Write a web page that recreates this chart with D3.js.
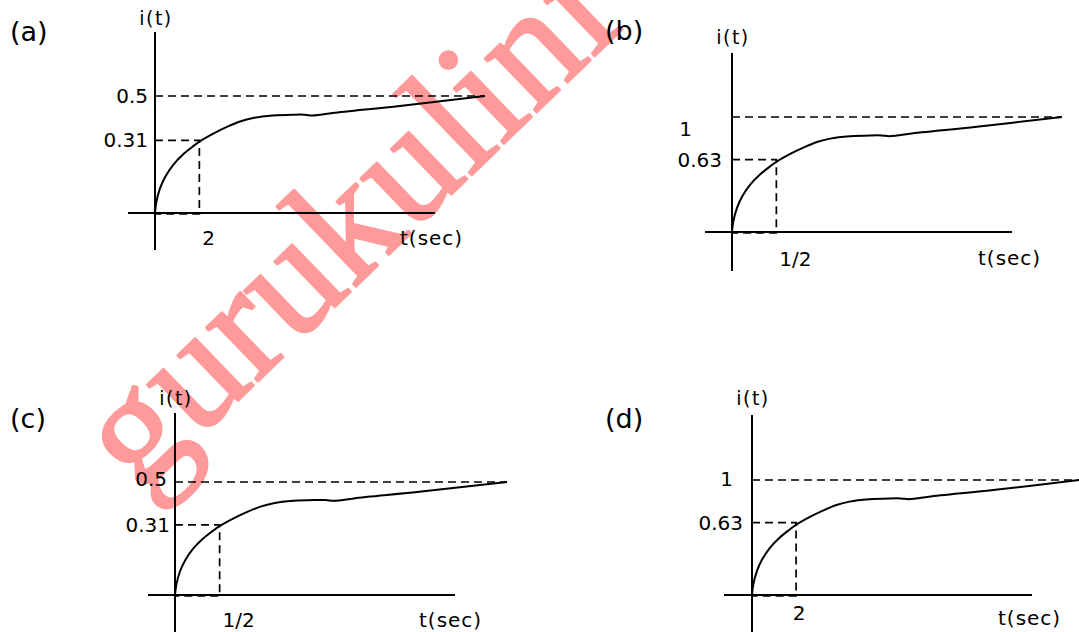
<!DOCTYPE html>
<html>
<head>
<meta charset="utf-8">
<script src="https://cdn.jsdelivr.net/npm/d3@7"></script>
<style>
  html, body { margin: 0; padding: 0; background: #fff; }
  svg { display: block; font-family: "DejaVu Sans", Verdana, sans-serif; }
</style>
</head>
<body>
<div id="chart"></div>
<script>
// panel data
const panelNames = ['(a)', '(b)', '(c)', '(d)'];
const steadyValues = [0.5, 1, 0.5, 1];
const steadyLabels = ['0.5', '1', '0.5', '1'];
const markerValues = [0.31, 0.63, 0.31, 0.63];
const markerLabels = ['0.31', '0.63', '0.31', '0.63'];
const markerTimes = [2, 0.5, 0.5, 2];
const markerTimeLabels = ['2', '1/2', '1/2', '2'];

// curve: time in multiples of the marked time,
// current as a fraction of the steady value
const shapeT = [0, 0.029, 0.113, 0.232, 0.406, 0.631, 0.857, 1.0, 1.346, 1.646, 1.917, 2.21, 2.66, 3.11, 3.38, 3.54, 3.72, 4.01, 5.52, 7.44];
const shapeI = [0, 0.09, 0.21, 0.31, 0.41, 0.5, 0.57, 0.61, 0.685, 0.74, 0.782, 0.812, 0.833, 0.84, 0.84, 0.833, 0.839, 0.855, 0.915, 1.0];

const width = 1079;
const height = 632;

// where each little plot sits on the page
const layout = [
    { ox: 155, oy: 213, xEnd: 485, yTop: 96, axTop: 32, axBottom: 250, axLeft: 128, axRight: 435,
      name: [10, 41], it: [156, 25], tsec: [400, 245], tLab: [3, 245, 'start'], steadyOff: [-7, 0], markerOff: [-7, 0] },
    { ox: 732, oy: 232, xEnd: 1062, yTop: 117, axTop: 53, axBottom: 271, axLeft: 705, axRight: 1012,
      name: [605, 40], it: [733, 44], tsec: [978, 265], tLab: [3, 266, 'start'], steadyOff: [-40, 11.5], markerOff: [-10, 0] },
    { ox: 175, oy: 595, xEnd: 507, yTop: 482, axTop: 413, axBottom: 640, axLeft: 148, axRight: 455,
      name: [10, 428], it: [176, 405], tsec: [419, 627], tLab: [3, 627, 'start'], steadyOff: [-8, -3], markerOff: [-5, 0] },
    { ox: 752, oy: 595, xEnd: 1080, yTop: 480, axTop: 415, axBottom: 640, axLeft: 724, axRight: 1032,
      name: [605, 428], it: [753, 405], tsec: [998, 625], tLab: [3, 620, 'middle'], steadyOff: [-19, -1], markerOff: [-9, 0] }
];

const svg = d3.select('#chart')
    .append('svg')
    .attr('width', width)
    .attr('height', height);

svg.append('rect')
    .attr('width', width)
    .attr('height', height)
    .attr('fill', '#fff');

// watermark sits under the drawings
svg.append('text')
    .attr('transform', 'translate(139,496) rotate(-44)')
    .attr('font-family', '"Liberation Serif", "Times New Roman", serif')
    .attr('font-size', 162)
    .attr('fill', '#ff9a9a')
    .attr('stroke', '#ff9a9a')
    .attr('stroke-width', 2.5)
    .attr('stroke-linejoin', 'round')
    .text('gurukulini');

const line = d3.line().curve(d3.curveCatmullRom.alpha(0.5));

panelNames.forEach((name, i) => {
    const L = layout[i];
    const tEnd = shapeT[shapeT.length - 1] * markerTimes[i];

    const x = d3.scaleLinear().domain([0, tEnd]).range([L.ox, L.xEnd]);
    const y = d3.scaleLinear().domain([0, steadyValues[i]]).range([L.oy, L.yTop]);

    const g = svg.append('g').attr('class', 'panel');

    // axes
    g.append('line')
        .attr('x1', L.axLeft).attr('x2', L.axRight)
        .attr('y1', y(0)).attr('y2', y(0))
        .attr('stroke', '#000').attr('stroke-width', 2);
    g.append('line')
        .attr('x1', x(0)).attr('x2', x(0))
        .attr('y1', L.axTop).attr('y2', L.axBottom)
        .attr('stroke', '#000').attr('stroke-width', 2);

    // dashed guides
    const dash = '8,5';
    g.append('line')
        .attr('x1', x(0)).attr('x2', x(tEnd))
        .attr('y1', y(steadyValues[i])).attr('y2', y(steadyValues[i]))
        .attr('stroke', '#000').attr('stroke-width', 1.7).attr('stroke-dasharray', dash);
    g.append('path')
        .attr('d', `M${x(0)},${y(markerValues[i])}H${x(markerTimes[i])}V${y(0) + 1}H${x(0)}`)
        .attr('fill', 'none')
        .attr('stroke', '#000').attr('stroke-width', 1.7).attr('stroke-dasharray', dash);

    // response curve
    const pts = shapeT.map((t, k) => [x(t * markerTimes[i]), y(shapeI[k] * steadyValues[i])]);
    g.append('path')
        .attr('d', line(pts))
        .attr('fill', 'none')
        .attr('stroke', '#000')
        .attr('stroke-width', 2);

    // texts
    g.append('text')
        .attr('x', L.name[0]).attr('y', L.name[1])
        .attr('font-size', 27)
        .text(name);

    g.append('text')
        .attr('x', L.it[0]).attr('y', L.it[1])
        .attr('text-anchor', 'middle')
        .attr('font-size', 19)
        .attr('letter-spacing', 1.5)
        .text('i(t)');

    g.append('text')
        .attr('x', L.tsec[0]).attr('y', L.tsec[1])
        .attr('font-size', 20)
        .attr('letter-spacing', 1)
        .text('t(sec)');

    g.append('text')
        .attr('x', x(0) + L.steadyOff[0]).attr('y', y(steadyValues[i]) + L.steadyOff[1])
        .attr('text-anchor', 'end')
        .attr('dominant-baseline', 'central')
        .attr('font-size', 20)
        .text(steadyLabels[i]);

    g.append('text')
        .attr('x', x(0) + L.markerOff[0]).attr('y', y(markerValues[i]) + L.markerOff[1])
        .attr('text-anchor', 'end')
        .attr('dominant-baseline', 'central')
        .attr('font-size', 20)
        .text(markerLabels[i]);

    g.append('text')
        .attr('x', x(markerTimes[i]) + L.tLab[0]).attr('y', L.tLab[1])
        .attr('text-anchor', L.tLab[2])
        .attr('font-size', 20)
        .text(markerTimeLabels[i]);
});
</script>
</body>
</html>
